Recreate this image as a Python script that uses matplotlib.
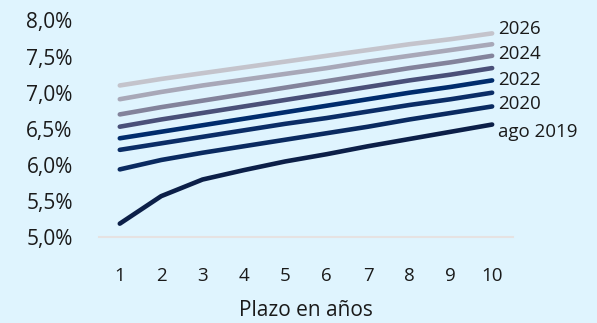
import matplotlib
matplotlib.use('Agg')
import matplotlib.pyplot as plt
from matplotlib.ticker import FuncFormatter

# Plazo (años) y curvas de tipos por año
plazo = [1, 2, 3, 4, 5, 6, 7, 8, 9, 10]
ago2019 = [5.19, 5.57, 5.80, 5.93, 6.05, 6.15, 6.26, 6.36, 6.46, 6.56]
y2020 = [5.94, 6.07, 6.17, 6.26, 6.35, 6.44, 6.53, 6.63, 6.72, 6.81]
y2021 = [6.21, 6.30, 6.39, 6.48, 6.57, 6.65, 6.74, 6.83, 6.91, 7.00]
y2022 = [6.37, 6.46, 6.55, 6.64, 6.73, 6.82, 6.91, 7.00, 7.08, 7.17]
y2023 = [6.53, 6.63, 6.72, 6.81, 6.90, 6.99, 7.08, 7.17, 7.25, 7.34]
y2024 = [6.70, 6.80, 6.89, 6.98, 7.07, 7.16, 7.25, 7.34, 7.42, 7.51]
y2025 = [6.91, 7.01, 7.10, 7.18, 7.26, 7.34, 7.43, 7.51, 7.59, 7.67]
y2026 = [7.10, 7.19, 7.27, 7.35, 7.43, 7.51, 7.59, 7.67, 7.74, 7.82]

series = [ago2019, y2020, y2021, y2022, y2023, y2024, y2025, y2026]
colors = ['#0c1f48', '#0a2a60', '#0b2d66', '#002c6c', '#4a5079', '#83839b', '#a8a8b8', '#c4c4cc']
labels = ['ago 2019', '2020', '', '2022', '', '2024', '', '2026']
label_dy = [-5.5, 2, 0, 0, 0, 1, 0, 3]  # desplazamiento vertical en puntos

bg = '#dff4fe'
plt.rcParams['font.family'] = ['Open Sans', 'DejaVu Sans']

fig = plt.figure(figsize=(5.97, 3.23), dpi=100, facecolor=bg)
ax = fig.add_axes([0.166, 0.265, 0.693, 0.672], facecolor=bg)

for vals, c, lab, dy in zip(series, colors, labels, label_dy):
    ax.plot(plazo, vals, color=c, lw=3.3, solid_capstyle='round', solid_joinstyle='round')
    if lab:
        ax.annotate(lab, (plazo[-1], vals[-1]), xytext=(4, dy), textcoords='offset points',
                    va='center', ha='left', fontsize=13.5, color='#1a1a1a', annotation_clip=False)

ax.set_xlim(0.5, 10.5)
ax.set_ylim(5.0, 8.0)
ax.set_xticks(plazo)
ax.set_yticks([5.0, 5.5, 6.0, 6.5, 7.0, 7.5, 8.0])
ax.yaxis.set_major_formatter(FuncFormatter(lambda v, p: f'{v:.1f}%'.replace('.', ',')))

for s in ['top', 'right', 'left']:
    ax.spines[s].set_visible(False)
ax.spines['bottom'].set_color('#e6e2e2')
ax.spines['bottom'].set_linewidth(1.5)

ax.tick_params(axis='y', length=0, pad=19, labelsize=15, labelcolor='#1a1a1a')
ax.tick_params(axis='x', length=0, pad=21, labelsize=13.5, labelcolor='#1a1a1a')
ax.set_xlabel('Plazo en años', fontsize=15, color='#1a1a1a', labelpad=11)

fig.savefig('out.png', dpi=100, facecolor=bg)
